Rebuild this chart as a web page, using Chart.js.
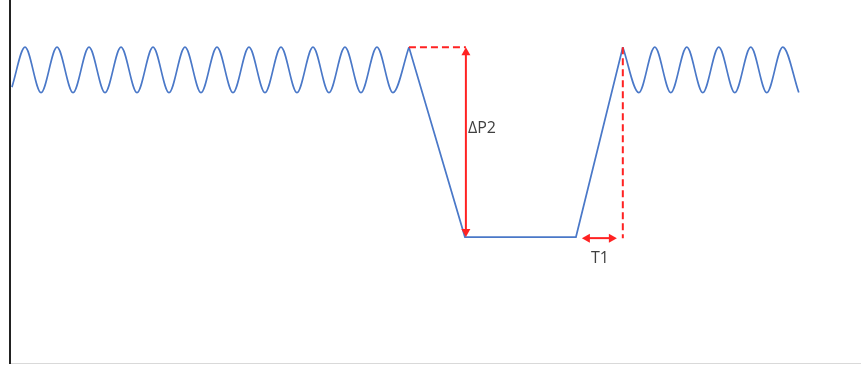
<!DOCTYPE html>
<html>
<head>
<meta charset="utf-8">
<script src="https://cdn.jsdelivr.net/npm/chart.js@4.4.0/dist/chart.umd.min.js"></script>
<style>
  html, body { margin: 0; padding: 0; background: #fff; }
  #wrap { width: 861px; height: 365px; }
</style>
</head>
<body>
<div id="wrap"><canvas id="pressureChart" width="861" height="365"></canvas></div>
<script>
// time in half-periods of the ripple, pressure in % of full scale
const waveBeforeX = [0.12, 0.94, 1.94, 2.94, 3.94, 4.94, 5.94, 6.94, 7.94, 8.94, 9.94, 10.94, 11.94,
                     12.94, 13.94, 14.94, 15.94, 16.94, 17.94, 18.94, 19.94, 20.94, 21.94, 22.94, 23.94, 24.94];
const waveBeforeY = [76, 87, 74.5, 87, 74.5, 87, 74.5, 87, 74.5, 87, 74.5, 87, 74.5,
                     87, 74.5, 87, 74.5, 87, 74.5, 87, 74.5, 87, 74.5, 87, 74.5, 87];

const dipX = [24.94, 28.44, 35.38, 38.31];
const dipY = [87, 34.7, 34.7, 87];

const waveAfterX = [38.31, 39.31, 40.31, 41.31, 42.31, 43.31, 44.31, 45.31, 46.31, 47.31, 48.31, 49.31];
const waveAfterY = [87, 74.5, 87, 74.5, 87, 74.5, 87, 74.5, 87, 74.5, 87, 74.5];

// annotation anchors (data units)
const deltaP2 = { x: 28.5, top: 87, bottom: 34.7, leadFrom: 24.94 };
const t1 = { dashX: 38.31, dashBottom: 34.4, from: 35.75, to: 37.94, y: 34.4 };
const labels = [
  { text: 'ΔP2', x: 28.63, y: 64.7, align: 'left' },
  { text: 'T1', x: 36.88, y: 28.7, align: 'center' }
];

const toPoints = (xs, ys) => xs.map((x, i) => ({ x: x, y: ys[i] }));

const BLUE = '#4a78c8';
const RED = '#ff2222';

function arrowHead(ctx, x, y, dir) {
  const len = 8, half = 4.5;
  ctx.beginPath();
  if (dir === 'up') { ctx.moveTo(x, y); ctx.lineTo(x - half, y + len); ctx.lineTo(x + half, y + len); }
  if (dir === 'down') { ctx.moveTo(x, y); ctx.lineTo(x - half, y - len); ctx.lineTo(x + half, y - len); }
  if (dir === 'left') { ctx.moveTo(x, y); ctx.lineTo(x + len, y - half); ctx.lineTo(x + len, y + half); }
  if (dir === 'right') { ctx.moveTo(x, y); ctx.lineTo(x - len, y - half); ctx.lineTo(x - len, y + half); }
  ctx.closePath();
  ctx.fill();
}

const annotations = {
  id: 'annotations',
  afterDatasetsDraw(chart) {
    const { ctx, scales: { x, y } } = chart;
    ctx.save();
    ctx.strokeStyle = RED;
    ctx.fillStyle = RED;
    ctx.lineWidth = 2;

    // dashed lead-out from the last peak
    ctx.setLineDash([7, 4]);
    ctx.beginPath();
    ctx.moveTo(x.getPixelForValue(deltaP2.leadFrom), y.getPixelForValue(deltaP2.top));
    ctx.lineTo(x.getPixelForValue(deltaP2.x), y.getPixelForValue(deltaP2.top));
    ctx.stroke();

    // dashed marker at recovery peak
    ctx.beginPath();
    ctx.moveTo(x.getPixelForValue(t1.dashX), y.getPixelForValue(deltaP2.top));
    ctx.lineTo(x.getPixelForValue(t1.dashX), y.getPixelForValue(t1.dashBottom));
    ctx.stroke();
    ctx.setLineDash([]);

    // ΔP2 double arrow
    const ax = x.getPixelForValue(deltaP2.x);
    const aTop = y.getPixelForValue(deltaP2.top);
    const aBot = y.getPixelForValue(deltaP2.bottom);
    ctx.beginPath();
    ctx.moveTo(ax, aTop + 4);
    ctx.lineTo(ax, aBot - 4);
    ctx.stroke();
    arrowHead(ctx, ax, aTop, 'up');
    arrowHead(ctx, ax, aBot, 'down');

    // T1 double arrow
    const tx0 = x.getPixelForValue(t1.from);
    const tx1 = x.getPixelForValue(t1.to);
    const ty = y.getPixelForValue(t1.y);
    ctx.beginPath();
    ctx.moveTo(tx0 + 4, ty);
    ctx.lineTo(tx1 - 4, ty);
    ctx.stroke();
    arrowHead(ctx, tx0, ty, 'left');
    arrowHead(ctx, tx1, ty, 'right');

    ctx.fillStyle = '#404040';
    ctx.font = '16px "Open Sans", "Liberation Sans", sans-serif';
    ctx.textBaseline = 'middle';
    labels.forEach(l => {
      ctx.textAlign = l.align;
      ctx.fillText(l.text, x.getPixelForValue(l.x), y.getPixelForValue(l.y));
    });
    ctx.restore();
  }
};

const lineStyle = {
  borderColor: BLUE,
  borderWidth: 1.7,
  pointRadius: 0,
  fill: false
};

new Chart(document.getElementById('pressureChart'), {
  type: 'line',
  data: {
    datasets: [
      Object.assign({ data: toPoints(waveBeforeX, waveBeforeY), cubicInterpolationMode: 'monotone' }, lineStyle),
      Object.assign({ data: toPoints(dipX, dipY), tension: 0 }, lineStyle),
      Object.assign({ data: toPoints(waveAfterX, waveAfterY), cubicInterpolationMode: 'monotone' }, lineStyle)
    ]
  },
  options: {
    responsive: false,
    animation: false,
    layout: { padding: { left: 10, top: 0, right: 0, bottom: 2 } },
    plugins: { legend: { display: false }, tooltip: { enabled: false } },
    scales: {
      x: {
        type: 'linear',
        min: 0,
        max: 53.2,
        grid: { display: false },
        ticks: { display: false },
        border: { color: '#d9d9d9', width: 1 },
        afterFit: (scale) => { scale.height = 0; }
      },
      y: {
        min: 0,
        max: 100,
        grid: { display: false },
        ticks: { display: false },
        border: { color: '#222', width: 2 },
        afterFit: (scale) => { scale.width = 0; }
      }
    }
  },
  plugins: [annotations]
});
</script>
</body>
</html>
